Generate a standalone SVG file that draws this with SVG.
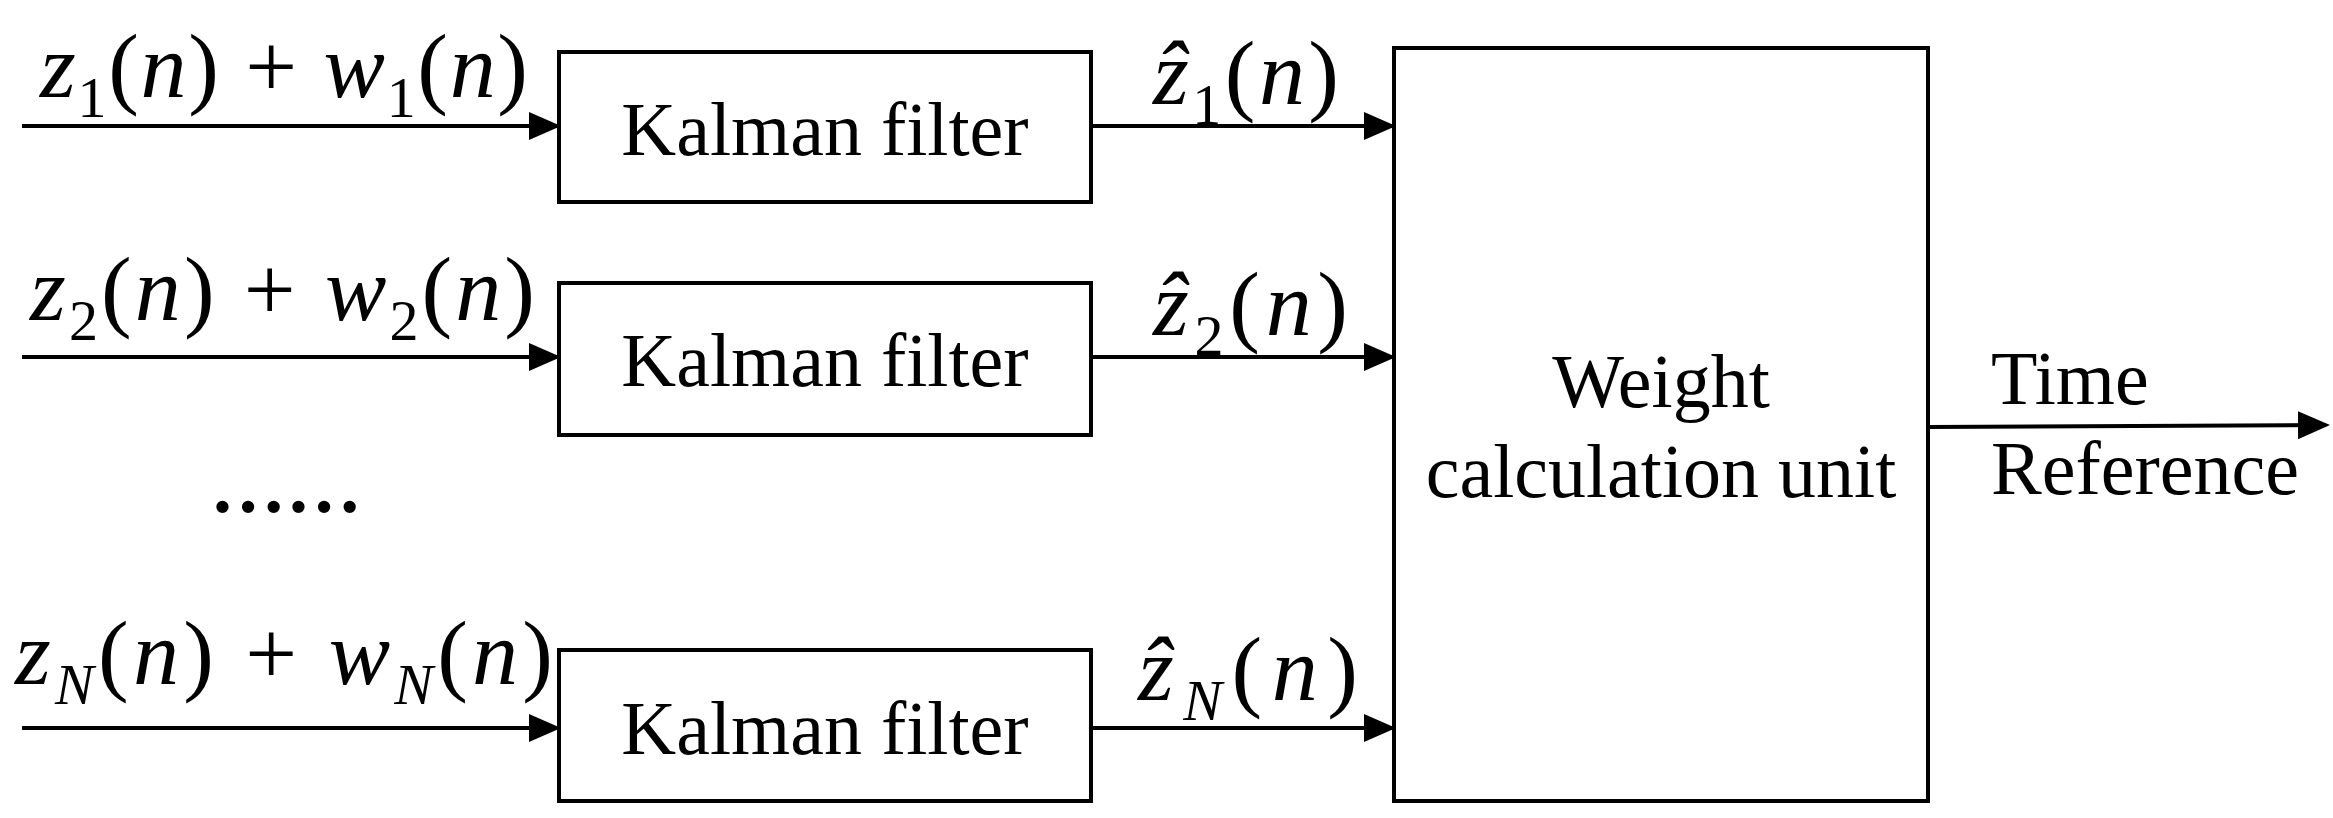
<svg xmlns="http://www.w3.org/2000/svg" width="2333" height="818" viewBox="0 0 2333 818">
<style>
.box{fill:#fff;stroke:#000;stroke-width:4}
.ln{stroke:#000;stroke-width:4;fill:none}
text{font-family:"Liberation Serif","Times New Roman",serif;fill:#000}
.lbl{font-size:76px}
.m{font-size:92px}
.i{font-style:italic}
.s{font-size:58px}
</style>
<defs><marker id="a" markerWidth="8" markerHeight="8" refX="7" refY="4" orient="auto" markerUnits="strokeWidth"><path d="M0,0.5 L8,4 L0,7.5 Z" fill="#000"/></marker></defs>
<g id="connectors">
<line class="ln" x1="22" y1="126" x2="557" y2="126" marker-end="url(#a)"/>
<line class="ln" x1="22" y1="357" x2="557" y2="357" marker-end="url(#a)"/>
<line class="ln" x1="22" y1="728" x2="557" y2="728" marker-end="url(#a)"/>
<line class="ln" x1="1091" y1="126" x2="1392" y2="126" marker-end="url(#a)"/>
<line class="ln" x1="1091" y1="357" x2="1392" y2="357" marker-end="url(#a)"/>
<line class="ln" x1="1091" y1="728" x2="1392" y2="728" marker-end="url(#a)"/>
<line class="ln" x1="1928" y1="427" x2="2326" y2="425" marker-end="url(#a)"/>
</g>
<g id="kf1"><rect class="box" x="559" y="52" width="532" height="150"/><text class="lbl" x="825" y="155" text-anchor="middle">Kalman filter</text></g>
<g id="kf2"><rect class="box" x="559" y="283" width="532" height="152"/><text class="lbl" x="825" y="386" text-anchor="middle">Kalman filter</text></g>
<g id="kfN"><rect class="box" x="559" y="650" width="532" height="151"/><text class="lbl" x="825" y="754" text-anchor="middle">Kalman filter</text></g>
<g id="wcu"><rect class="box" x="1394" y="48" width="534" height="753"/>
<text class="lbl" x="1661" y="407" text-anchor="middle">Weight</text>
<text class="lbl" x="1661" y="497" text-anchor="middle">calculation unit</text></g>
<g id="out-label"><text class="lbl" x="1991" y="404">Time</text><text class="lbl" x="1991" y="494">Reference</text></g>
<g id="in-labels">
<text class="m" x="40" y="97" textLength="488" lengthAdjust="spacing"><tspan class="i">z</tspan><tspan class="s" dy="20">1</tspan><tspan dy="-20">(</tspan><tspan class="i">n</tspan><tspan>) + </tspan><tspan class="i">w</tspan><tspan class="s" dy="20">1</tspan><tspan dy="-20">(</tspan><tspan class="i">n</tspan><tspan>)</tspan></text>
<text class="m" x="30" y="320" textLength="505" lengthAdjust="spacing"><tspan class="i">z</tspan><tspan class="s" dy="20">2</tspan><tspan dy="-20">(</tspan><tspan class="i">n</tspan><tspan>) + </tspan><tspan class="i">w</tspan><tspan class="s" dy="20">2</tspan><tspan dy="-20">(</tspan><tspan class="i">n</tspan><tspan>)</tspan></text>
<text class="m" x="15" y="684" textLength="538" lengthAdjust="spacing"><tspan class="i">z</tspan><tspan class="s i" dy="20">N</tspan><tspan dy="-20">(</tspan><tspan class="i">n</tspan><tspan>) + </tspan><tspan class="i">w</tspan><tspan class="s i" dy="20">N</tspan><tspan dy="-20">(</tspan><tspan class="i">n</tspan><tspan>)</tspan></text>
<text x="210" y="512" font-size="76" font-weight="bold">……</text>
</g>
<g id="out-labels">
<text class="m" x="1153" y="104" textLength="186" lengthAdjust="spacing"><tspan class="i">ẑ</tspan><tspan class="s" dy="20">1</tspan><tspan dy="-20">(</tspan><tspan class="i">n</tspan><tspan>)</tspan></text>
<text class="m" x="1153" y="335" textLength="195" lengthAdjust="spacing"><tspan class="i">ẑ</tspan><tspan class="s" dy="20">2</tspan><tspan dy="-20">(</tspan><tspan class="i">n</tspan><tspan>)</tspan></text>
<text class="m" x="1138" y="700" textLength="220" lengthAdjust="spacing"><tspan class="i">ẑ</tspan><tspan class="s i" dy="20">N</tspan><tspan dy="-20">(</tspan><tspan class="i">n</tspan><tspan>)</tspan></text>
</g>
</svg>
